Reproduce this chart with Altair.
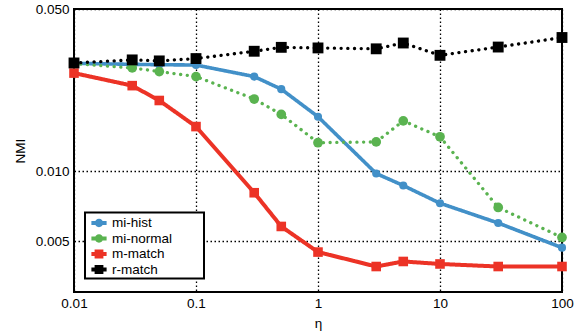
import altair as alt
import pandas as pd

eta = [0.01, 0.03, 0.05, 0.1, 0.3, 0.5, 1, 3, 5, 10, 30, 100]
mi_hist = [0.0292, 0.0289, 0.0288, 0.0287, 0.0256, 0.0226, 0.0172, 0.0098, 0.0087, 0.0073, 0.0060, 0.0047]
mi_normal = [0.0291, 0.0279, 0.0269, 0.0256, 0.0205, 0.0176, 0.0133, 0.0134, 0.0165, 0.0141, 0.0070, 0.0052]
m_match = [0.0265, 0.0234, 0.0202, 0.0156, 0.0081, 0.0058, 0.0045, 0.0039, 0.0041, 0.0040, 0.0039, 0.0039]
r_match = [0.0293, 0.0302, 0.0299, 0.0306, 0.0329, 0.0342, 0.0340, 0.0337, 0.0357, 0.0316, 0.0343, 0.0377]

series = ["mi-hist", "mi-normal", "m-match", "r-match"]
colors = ["#4290c8", "#5ab350", "#ec3326", "#000000"]

rows = []
for name, vals in zip(series, [mi_hist, mi_normal, m_match, r_match]):
    for e, v in zip(eta, vals):
        rows.append({"eta": e, "nmi": v, "series": name})
df = pd.DataFrame(rows)

FONT = "Liberation Sans"

x = alt.X("eta:Q", title="η",
          scale=alt.Scale(type="log", domain=[0.01, 100], nice=False),
          axis=alt.Axis(values=[0.01, 0.1, 1, 10, 100], format="~g", labelFlush=False,
                        titleX=244, titleY=31, titleBaseline="middle"))
y = alt.Y("nmi:Q", title="NMI",
          scale=alt.Scale(type="log", domain=[0.00303, 0.05], nice=False),
          axis=alt.Axis(values=[0.005, 0.01, 0.05], format=".3f", labelFlush=False,
                        titleX=-54, titleY=141.5, titleAngle=270,
                        titleBaseline="middle", titleAlign="center"))

base = alt.Chart(df)

# per-series style: (colour, dash, line width, marker, marker size)
styles = {
    "mi-hist": ("#4290c8", [1, 0], 3.6, "circle", 66),
    "mi-normal": ("#5ab350", [0.1, 6.6], 3.3, "circle", 95),
    "m-match": ("#ec3326", [1, 0], 4.0, "square", 92),
    "r-match": ("#000000", [0.1, 6.6], 3.3, "square", 118),
}

circ_path = "M-0.95,-0.24L0.95,-0.24L0.95,0.24L-0.95,0.24Z M0.52,0A0.52,0.52,0,1,1,-0.52,0A0.52,0.52,0,1,1,0.52,0Z"
sq_path = "M-0.95,-0.24L0.95,-0.24L0.95,0.24L-0.95,0.24Z M-0.55,-0.55L0.55,-0.55L0.55,0.55L-0.55,0.55Z"

legend = alt.Legend(title=None, orient="none", legendX=11, legendY=203.5,
                    padding=2.5, rowPadding=0.5, symbolSize=256,
                    symbolOffset=3.5, labelOffset=5, symbolStrokeWidth=0,
                    labelFontSize=13.5, labelFont=FONT, labelColor="#000000",
                    labelExpr="datum.label + '\u00a0\u00a0\u00a0\u00a0\u00a0\u2800'",
                    strokeColor="#000000", fillColor="#ffffff")

legend_layer = base.transform_filter("false").mark_point(filled=True, opacity=1).encode(
    x=x, y=y,
    color=alt.Color("series:N", scale=alt.Scale(domain=series, range=colors), legend=legend),
    shape=alt.Shape("series:N", scale=alt.Scale(domain=series,
                    range=[circ_path, circ_path, sq_path, sq_path]), legend=legend),
)

layers = [legend_layer]
for name in series:
    col, dash, lw, marker, msize = styles[name]
    sub = base.transform_filter(alt.datum.series == name)
    layers.append(sub.mark_line(color=col, strokeDash=dash, strokeWidth=lw,
                                strokeCap="round", strokeJoin="round").encode(x=x, y=y))
    if marker == "circle":
        layers.append(sub.mark_circle(color=col, size=msize, opacity=1).encode(x=x, y=y))
    else:
        layers.append(sub.mark_square(color=col, size=msize, opacity=1).encode(x=x, y=y))

chart = alt.layer(*layers).properties(
    width=488, height=283,
    autosize=alt.AutoSizeParams(type="none"),
    padding={"left": 74, "top": 9, "right": 22, "bottom": 44},
    background="white",
).configure_view(
    stroke="#000000", strokeWidth=2, fill="white"
).configure_axis(
    ticks=False, domain=False,
    grid=True, gridColor="#000000", gridDash=[1.5, 2.5], gridWidth=1.3, gridOpacity=1,
    labelFont=FONT, labelFontSize=13.5, labelColor="#000000", labelPadding=5,
    titleFont=FONT, titleFontSize=13.5, titleFontWeight="normal", titleColor="#000000",
).configure_axisX(
    labelPadding=4
).configure_legend(
    strokeWidth=2
)

chart.save("out.html", embed_options={"renderer": "svg", "actions": False})
